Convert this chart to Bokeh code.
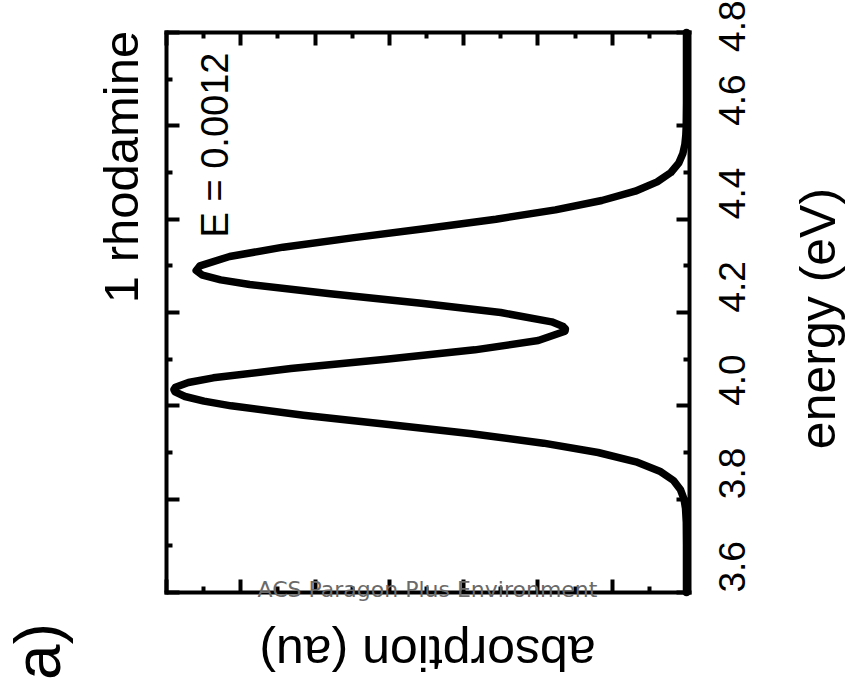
import math
from bokeh.plotting import figure
from bokeh.models import Range1d, LinearAxis, FixedTicker, Label, PrintfTickFormatter
from bokeh.embed import file_html
from bokeh.resources import INLINE

# ---- data ----
energy = [3.60, 3.70, 3.75, 3.78, 3.80, 3.82, 3.84, 3.86, 3.88, 3.90, 3.92, 3.94, 3.96, 3.98,
          4.00, 4.01, 4.02, 4.03, 4.035, 4.04, 4.05, 4.06, 4.08, 4.10, 4.12, 4.14, 4.16, 4.165,
          4.17, 4.18, 4.20, 4.22, 4.24, 4.26, 4.27, 4.28, 4.29, 4.30, 4.32, 4.34, 4.36, 4.38,
          4.40, 4.42, 4.44, 4.46, 4.48, 4.50, 4.52, 4.54, 4.56, 4.58, 4.60, 4.65, 4.70, 4.80]
absorption = [0.0, 0.0, 0.0005, 0.0026, 0.0067, 0.016, 0.035, 0.072, 0.136, 0.238, 0.385, 0.578, 0.802, 1.031,
              1.226, 1.299, 1.350, 1.377, 1.380, 1.376, 1.341, 1.274, 1.065, 0.809, 0.570, 0.399, 0.327, 0.326,
              0.332, 0.363, 0.500, 0.714, 0.959, 1.176, 1.254, 1.303, 1.320, 1.310, 1.230, 1.086, 0.900, 0.701,
              0.513, 0.353, 0.228, 0.138, 0.079, 0.042, 0.021, 0.010, 0.0044, 0.0018, 0.0007, 0.0, 0.0, 0.0]

energy_ticks = [3.6, 3.8, 4.0, 4.2, 4.4, 4.6, 4.8]
energy_minor = [3.7, 3.9, 4.1, 4.3, 4.5, 4.7]
abs_ticks = [0.0, 0.2, 0.4, 0.6, 0.8, 1.0, 1.2, 1.4]
abs_minor = [0.1, 0.3, 0.5, 0.7, 0.9, 1.1, 1.3]

# box limits of the plotted area
E_MIN, E_MAX = 3.6, 4.8
A_MAX, A_EDGE = 1.4, -0.008

title_text = "1 rhodamine"
param_text = "E = 0.0012"
x_label = "energy (eV)"
y_label = "absorption (au)"
panel_text = "a)"
watermark = "ACS Paragon Plus Environment"

FONT = "Liberation Sans"

# the frame covers the whole canvas; the drawn box is made of axes at fixed locations
p = figure(width=846, height=681, output_backend="svg", toolbar_location=None,
           x_range=Range1d(1.8469, -0.4308), y_range=Range1d(3.4093, 4.8686),
           x_axis_type=None, y_axis_type=None,
           min_border_left=0, min_border_right=0, min_border_top=0, min_border_bottom=0)
p.background_fill_color = "white"
p.border_fill_color = "white"
p.outline_line_color = None
p.xgrid.visible = False
p.ygrid.visible = False


def make_axis(ticker, loc, bounds, show_labels):
    ax = LinearAxis(ticker=ticker, fixed_location=loc, bounds=bounds,
                    formatter=PrintfTickFormatter(format="%.1f"))
    ax.axis_line_color = "black"
    ax.axis_line_width = 4
    ax.axis_line_cap = "square"
    ax.major_tick_in = 13
    ax.major_tick_out = 0
    ax.minor_tick_in = 6
    ax.minor_tick_out = 0
    ax.major_tick_line_width = 4
    ax.minor_tick_line_width = 4
    ax.major_tick_line_color = "black"
    ax.minor_tick_line_color = "black"
    if show_labels:
        ax.major_label_text_font = FONT
        ax.major_label_text_font_size = "37px"
        ax.major_label_text_color = "black"
        ax.major_label_orientation = math.pi / 2
        ax.major_label_standoff = 43
    else:
        ax.major_label_text_font_size = "0px"
        ax.major_label_text_color = None
    return ax


e_ticker = FixedTicker(ticks=energy_ticks, minor_ticks=energy_minor)
a_ticker = FixedTicker(ticks=abs_ticks, minor_ticks=abs_minor)

p.add_layout(make_axis(e_ticker, A_EDGE, (E_MIN, E_MAX), True), "right")
p.add_layout(make_axis(e_ticker, A_MAX, (E_MIN, E_MAX), False), "left")
p.add_layout(make_axis(a_ticker, E_MAX, (A_EDGE, A_MAX), False), "above")
p.add_layout(make_axis(a_ticker, E_MIN, (A_EDGE, A_MAX), False), "below")

p.line(absorption, energy, line_width=7.5, line_color="black", line_join="round", line_cap="round")


def add_text(txt, x, y, size, angle=0.0, align="center", color="black", font=FONT):
    p.add_layout(Label(x=x, y=y, text=txt, angle=angle,
                       text_align=align, text_baseline="middle",
                       text_font=font, text_font_size=size, text_color=color))


add_text(title_text, 1.5212, 4.5118, "49px", angle=math.pi / 2)
add_text(param_text, 1.2686, 4.5589, "38px", angle=math.pi / 2)
add_text(x_label, -0.3546, 4.1871, "50px", angle=math.pi / 2)
add_text(y_label, 0.6973, 3.4708, "50px", angle=math.pi)
add_text(panel_text, 1.7452, 3.4736, "64px", angle=math.pi / 2)
add_text(watermark, 0.6973, 3.6064, "22px", color="#6a6a6a", font="DejaVu Sans")

open("out.html", "w").write(file_html(p, INLINE))
